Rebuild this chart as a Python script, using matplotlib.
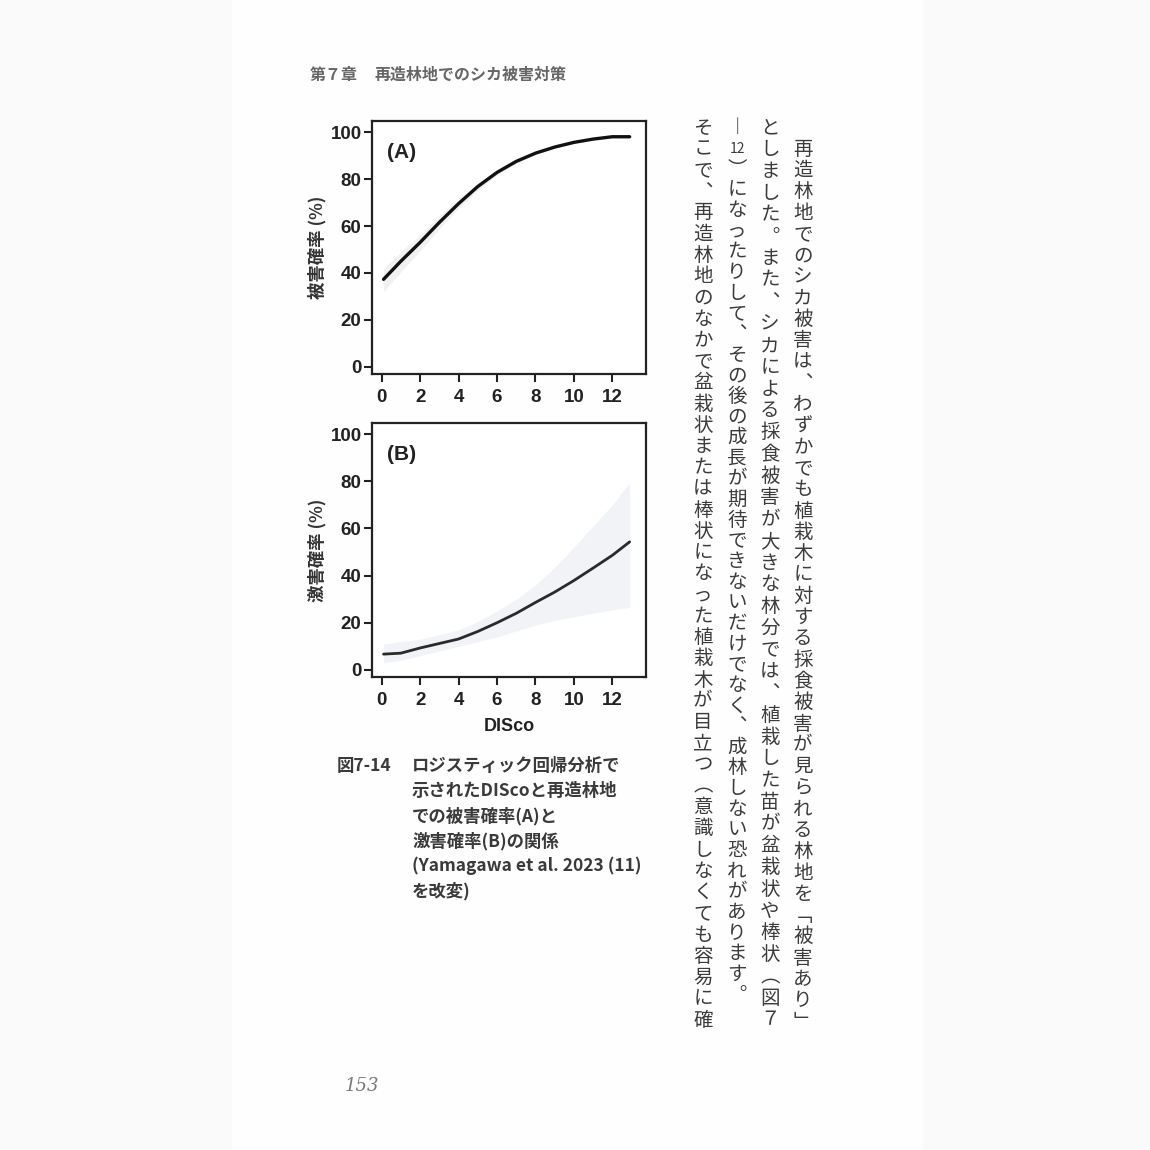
import re
import matplotlib
matplotlib.use('Agg')
import matplotlib.pyplot as plt
from matplotlib.patches import Rectangle

plt.rcParams['font.family'] = ['Noto Sans CJK JP', 'DejaVu Sans']

# ---- data ----
disco = [0.1, 1, 2, 3, 4, 5, 6, 7, 8, 9, 10, 11, 12, 12.9]
# (A) damage probability (%)
damage_fit = [37.3, 45.0, 53.0, 61.5, 69.5, 76.8, 82.8, 87.5, 91.0, 93.6, 95.6, 97.0, 98.0, 98.0]
damage_lo = [32, 40.5, 49.5, 58.8, 67.5, 75.2, 81.7, 86.7, 90.4, 93.1, 95.2, 96.6, 97.6, 97.5]
damage_hi = [42, 49, 56.3, 64.2, 71.5, 78.3, 83.9, 88.3, 91.6, 94.1, 96.0, 97.4, 98.4, 98.5]
# (B) severe damage probability (%)
severe_fit = [6.7, 7.1, 9.3, 11.2, 13.1, 16.3, 20, 24, 28.6, 33, 37.9, 43.2, 48.6, 54.3]
severe_lo = [3, 4, 6, 8, 10, 12, 14, 16.5, 19, 21, 22.5, 24, 25.5, 26.5]
severe_hi = [11, 12, 13, 15, 17, 20.5, 25, 30, 36, 43.5, 52, 61, 70, 79.5]

xticks = [0, 2, 4, 6, 8, 10, 12]
yticks = [0, 20, 40, 60, 80, 100]

header_num = '第７章'
header_title = '再造林地でのシカ被害対策'
fig_no = '図7-14'
caption = ['ロジスティック回帰分析で',
           '示されたDIScoと再造林地',
           'での被害確率(A)と',
           '激害確率(B)の関係',
           '(Yamagawa et al. 2023 (11)',
           'を改変)']
# vertical body text, right column first
body = ['　再造林地でのシカ被害は、わずかでも植栽木に対する採食被害が見られる林地を「被害あり」',
        'としました。また、シカによる採食被害が大きな林分では、植栽した苗が盆栽状や棒状（図７',
        '－12）になったりして、その後の成長が期待できないだけでなく、成林しない恐れがあります。',
        'そこで、再造林地のなかで盆栽状または棒状になった植栽木が目立つ（意識しなくても容易に確']
page_no = '153'

W = 1150


def fx(x):
    return x / W


def fy(y):
    return 1 - y / W


fig = plt.figure(figsize=(11.5, 11.5), dpi=100, facecolor='#fafafa')
fig.patches.append(Rectangle((fx(232), 0), fx(922) - fx(232), 1,
                             transform=fig.transFigure, color='#fefefe', zorder=-5))

tick_font = dict(family='Liberation Sans', weight='bold', size=13.5)


def panel(rect, fit, lo, hi, tag, ylab, band_col, lw, line_col, xlabel=None):
    ax = fig.add_axes(rect)
    ax.set_facecolor('white')
    ax.fill_between(disco, lo, hi, color=band_col, lw=0)
    ax.plot(disco, fit, color=line_col, lw=lw, solid_capstyle='round',
            solid_joinstyle='round')
    ax.set_xlim(-0.5, 13.75)
    ax.set_ylim(-3, 104.7)
    ax.set_xticks(xticks)
    ax.set_yticks(yticks)
    ax.set_xticklabels([str(v) for v in xticks], fontdict=tick_font, color='#222')
    ax.set_yticklabels([str(v) for v in yticks], fontdict=tick_font, color='#222')
    ax.tick_params(axis='both', length=6, width=1.5, color='#222')
    ax.tick_params(axis='x', pad=5)
    ax.tick_params(axis='y', pad=1.5)
    for s in ax.spines.values():
        s.set_linewidth(1.6)
        s.set_color('#222')
    ax.text(0.055, 0.875, tag, transform=ax.transAxes, ha='left', va='center',
            family='Liberation Sans', weight='bold', size=15, color='#222')
    ax.set_ylabel(ylab, fontsize=12.5, weight='bold', color='#333', labelpad=3)
    if xlabel:
        ax.set_xlabel(xlabel, family='Liberation Sans', weight='bold',
                      size=13, color='#222', labelpad=6)
    return ax


panel([fx(372), fy(374), fx(646) - fx(372), fx(253)],
      damage_fit, damage_lo, damage_hi, '(A)', '被害確率 (%)', '#f1f1f1', 2.4, '#111')
panel([fx(372), fy(677), fx(646) - fx(372), fx(254)],
      severe_fit, severe_lo, severe_hi, '(B)', '激害確率 (%)', '#f1f3f6', 2.0, '#2a2a2a',
      xlabel='DISco')

# running header
fig.text(fx(310), fy(75), header_num, ha='left', va='center', size=11.5,
         weight='bold', color='#666')
fig.text(fx(375), fy(75), header_title, ha='left', va='center', size=11.5,
         weight='bold', color='#666')

# caption
fig.text(fx(337), fy(766), fig_no, ha='left', va='center', size=12.5,
         weight='bold', color='#3a3a3a')
for i, line in enumerate(caption):
    fig.text(fx(412), fy(766 + 25 * i), line, ha='left', va='center', size=12.5,
             weight='bold', color='#3a3a3a')

# vertical body text
vert = {'、': '︑', '。': '︒', '「': '﹁', '」': '﹂', '（': '︵', '）': '︶', '－': '︱'}
col_x = [803, 770, 737, 703]
col_end = [1022, 1020, 995, 1020]
top = 128
for cx, end, s in zip(col_x, col_end, body):
    cells = re.findall(r'[0-9]+|.', s)
    step = (end - top) / (len(cells) - 1)
    for i, c in enumerate(cells):
        if c == '　':
            continue
        size = 10 if c.isascii() else 14
        fig.text(fx(cx), fy(top + i * step), vert.get(c, c), ha='center', va='center',
                 size=size, color='#3c3c3c')

fig.text(fx(362), fy(1086), page_no, ha='center', va='center', size=13,
         family='DejaVu Serif', style='italic', color='#777')

fig.savefig('out.png', dpi=100, facecolor=fig.get_facecolor())
